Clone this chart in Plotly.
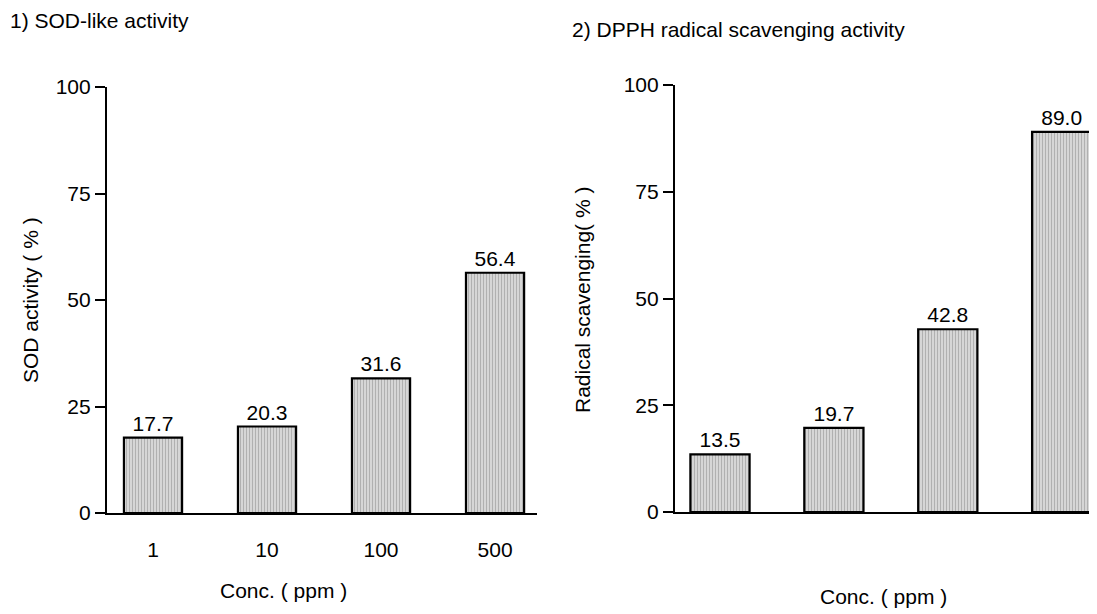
import plotly.graph_objects as go

# The page body adds an 8 px offset, so the figure is drawn 8 px smaller
OFF = 8
W, H = 1097 - OFF, 614 - OFF

# Data
conc_labels = ["1", "10", "100", "500"]
sod_values = [17.7, 20.3, 31.6, 56.4]
dpph_values = [13.5, 19.7, 42.8, 89.0]
y_ticks = [0, 25, 50, 75, 100]

FONT = "Liberation Sans, Arial, sans-serif"
FS = 21

def fx(px):
    return (px - OFF) / W

def fy(py):
    return 1 - (py - OFF) / H

fig = go.Figure()

bar_style = dict(
    marker=dict(
        color="#cfcfcf",
        line=dict(color="black", width=2.2),
        pattern=dict(shape="|", fgcolor="#8a8a8a", bgcolor="#d6d6d6", size=3, solidity=0.35),
    ),
    textposition="outside",
    textfont=dict(family=FONT, size=FS, color="black"),
    cliponaxis=False,
    showlegend=False,
)

fig.add_trace(go.Bar(
    x=list(range(len(conc_labels))), y=sod_values,
    text=[f"{v:.1f}" for v in sod_values], width=0.51,
    xaxis="x", yaxis="y", **bar_style))

fig.add_trace(go.Bar(
    x=list(range(len(conc_labels))), y=dpph_values,
    text=[f"{v:.1f}" for v in dpph_values], width=0.52,
    xaxis="x2", yaxis="y2", **bar_style))

axis_common = dict(showgrid=False, zeroline=False, showline=True, linecolor="black",
                   linewidth=2.2, automargin=False,
                   tickfont=dict(family=FONT, size=FS, color="black"))

fig.update_layout(
    width=W, height=H,
    margin=dict(l=0, r=0, t=0, b=0, autoexpand=False),
    paper_bgcolor="white", plot_bgcolor="white",
    font=dict(family=FONT, size=FS, color="black"),
    xaxis=dict(domain=[fx(107), fx(537)], range=[-0.4035, 3.368],
               tickvals=list(range(len(conc_labels))), ticktext=conc_labels,
               ticks="", ticklabelstandoff=17, anchor="y", **axis_common),
    yaxis=dict(domain=[fy(513), fy(87)], range=[0, 100], tickvals=y_ticks,
               ticks="outside", ticklen=10, tickwidth=2.2, tickcolor="black",
               anchor="x", **axis_common),
    xaxis2=dict(domain=[fx(675), fx(1097)], range=[-0.395, 3.31],
                tickvals=list(range(len(conc_labels))), showticklabels=False,
                ticks="", anchor="y2", **axis_common),
    yaxis2=dict(domain=[fy(512), fy(85)], range=[0, 100], tickvals=y_ticks,
                ticks="outside", ticklen=10, tickwidth=2.2, tickcolor="black",
                anchor="x2", **axis_common),
)

def ann(text, px, py, xanchor="center", angle=0, size=FS):
    fig.add_annotation(text=text, x=fx(px), y=fy(py), xref="paper", yref="paper",
                       xanchor=xanchor, yanchor="middle", showarrow=False,
                       textangle=angle, font=dict(family=FONT, size=size, color="black"))

ann("1) SOD-like activity", 8, 21, xanchor="left")
ann("2) DPPH radical scavenging activity", 570, 30, xanchor="left")
ann("SOD activity ( % )", 30, 300, angle=-90)
ann("Radical scavenging( % )", 582, 300, angle=-90)
ann("Conc. ( ppm )", 283, 590)
ann("Conc. ( ppm )", 883, 596)

fig.write_html("out.html")
